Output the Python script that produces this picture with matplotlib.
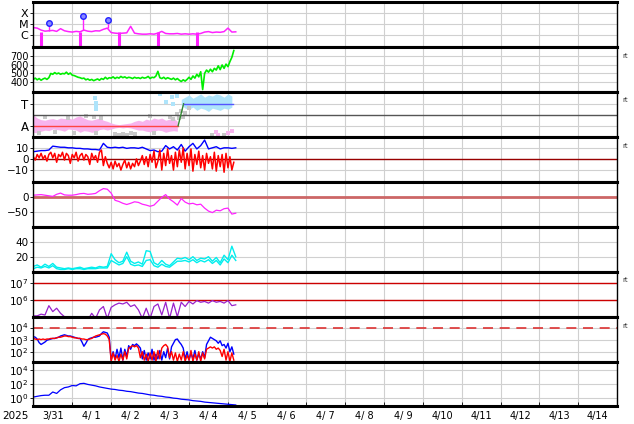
import numpy as np
import matplotlib.pyplot as plt
from matplotlib.ticker import FixedLocator, NullLocator

# time axis: days since 2025-03-31 00:00 UT
day_labels = ['3/31', '4/ 1', '4/ 2', '4/ 3', '4/ 4', '4/ 5', '4/ 6', '4/ 7',
              '4/ 8', '4/ 9', '4/10', '4/11', '4/12', '4/13', '4/14']
step_fine = 0.05
step = 0.1

# X-ray flux (W/m2)
xray = [5e-6, 4.5e-6, 3.0e-6, 2.4e-6, 2.6e-6, 2.8e-6, 2.3e-6, 4.0e-6, 2.6e-6, 2.2e-6,
        2.0e-6, 2.3e-6, 2.1e-6, 3.0e-6, 2.4e-6, 2.2e-6, 2.6e-6, 2.5e-6, 3.5e-6, 4.5e-6,
        1.8e-6, 1.6e-6, 1.5e-6, 1.6e-6, 1.7e-6, 6.5e-6, 1.6e-6, 1.4e-6, 1.3e-6, 1.3e-6,
        1.4e-6, 1.3e-6, 1.6e-6, 2.3e-6, 1.5e-6, 1.4e-6, 1.4e-6, 1.5e-6, 1.3e-6, 1.4e-6,
        1.3e-6, 1.4e-6, 1.3e-6, 1.5e-6, 2.0e-6, 2.2e-6, 1.8e-6, 2.0e-6, 1.9e-6, 2.2e-6,
        4.5e-6, 2.0e-6, 2.1e-6]
xray_gap_days = [0.2, 1.2, 2.2, 3.2, 4.2]
flare_days = [0.41, 1.28, 1.92]
flare_flux = [1.2e-5, 5.3e-5, 2.3e-5]
flare_base = [2.6e-6, 3.0e-6, 4.5e-6]

# solar wind speed (km/s)
speed = [430, 445, 425, 440, 420, 435, 445, 430, 450, 500, 490, 510, 495, 505, 490, 500, 495, 515, 490, 505,
         480, 475, 465, 455, 450, 440, 445, 425, 435, 420, 430, 415, 425, 435, 420, 440, 430, 455, 435, 450,
         445, 460, 440, 455, 445, 465, 450, 460, 445, 455, 450, 440, 455, 445, 450, 440, 455, 445, 450, 465,
         440, 455, 450, 470, 525, 450, 440, 455, 435, 450, 440, 430, 445, 425, 440, 420, 405, 425, 410, 430,
         455, 430, 470, 445, 490, 460, 520, 310, 500, 540, 515, 550, 520, 560, 540, 590, 545, 600, 560, 610,
         580, 640, 690, 770]

# IMF sector (T = +1, A = -1)
sector_days = [0.0, 3.72, 3.86, 5.13]
sector_vals = [-1, -1, 1, 1]
away_hi = [0.0, -0.3, -0.45, -0.5, -0.4, -0.35, -0.45, -0.3, -0.35, -0.3,
           -0.4, -0.2, -0.1, -0.3, -0.45, -0.5, -0.4, -0.3, -0.5, -0.6,
           -0.75, -0.85, -0.9, -0.85, -0.8, -0.75, -0.6, -0.5, -0.6, -0.4,
           -0.5, -0.3, -0.4, -0.3, -0.5, -0.4, -0.3, -0.6]
away_lo = [-1.6, -1.65, -1.5, -1.4, -1.45, -1.3, -1.35, -1.4, -1.5, -1.3,
           -1.35, -1.4, -1.6, -1.45, -1.5, -1.6, -1.55, -1.35, -1.3, -1.4,
           -1.3, -1.2, -1.15, -1.2, -1.15, -1.2, -1.3, -1.4, -1.4, -1.5,
           -1.55, -1.5, -1.4, -1.45, -1.6, -1.5, -1.45, -1.5]
toward_start = 3.8
toward_hi = [1.4, 1.6, 1.8, 1.5, 1.7, 1.9, 1.6, 1.8, 1.7, 1.9, 1.8, 1.6, 1.9, 1.7]
toward_lo = [0.9, 0.6, 0.5, 0.7, 0.4, 0.6, 0.5, 0.3, 0.6, 0.5, 0.4, 0.6, 0.5, 0.7]
gray_days = [0.15, 0.3, 0.55, 0.9, 1.05, 1.35, 1.55, 1.6, 1.75, 2.1, 2.2, 2.3, 2.4, 2.5,
             2.6, 3.0, 3.1, 3.5, 3.6, 3.7, 3.75, 3.8, 3.85, 3.9, 4.0, 4.6, 4.9]
gray_vals = [-1.7, -0.2, -1.6, -0.3, -1.7, -0.1, -0.2, -1.7, -0.3, -1.75, -1.8, -1.75, -1.8, -1.7,
             -1.75, -0.1, -1.7, -0.2, -0.4, 0.1, -0.3, 0.3, -0.2, 0.2, 0.6, -1.8, -1.85]
cyan_dots_days = [1.58, 1.6, 1.6, 1.62, 3.25, 3.4, 3.55, 3.6, 3.7]
cyan_dots_vals = [1.5, 1.1, 0.7, 0.5, 1.9, 1.2, 1.6, 1.0, 1.7]
pink_dots_days = [4.7, 4.75, 5.0, 5.1]
pink_dots_vals = [-1.6, -1.8, -1.7, -1.5]

# IMF Bt and Bz (nT)
bt = [6.5, 7, 7.5, 7.5, 8, 11.5, 11, 10.5, 10.5, 10, 10, 9.5, 9.5, 9, 9, 8.5, 8.5, 8, 14, 10.5,
      10, 10.5, 10, 10.5, 9.5, 10, 10, 9.5, 10.5, 9, 7.5, 8, 6.5, 7, 12, 9, 11, 8, 13, 7,
      11, 14, 9, 12, 17, 9, 10, 11, 9, 10, 10, 9.5, 10]
bz = [2, -1, 4, 1, 5, 0, 3, -2, 4, 6, 1, 5, -3, 4, 2, 6, -1, 5, 3, -4,
      4, 1, 6, -2, 3, 5, -1, 4, 2, -5, 5, 0, 3, -3, 6, 8, -6, 2, -4, -8,
      -3, -9, -2, -7, -4, -10, -5, -1, -8, -3, -9, -4, -7, 0, -6, -2, 3, -5, 2, -7,
      4, -3, 7, -8, -2, 8, -10, 5, -6, 9, -4, 3, -10, 6, -7, 8, -3, 10, -9, 5,
      -6, 9, -11, 4, -5, 7, -8, 3, -10, 5, -4, 2, -9, 6, -11, 3, -7, 4, -12, 5,
      -8, 2, -10, -3]

# Dst (nT)
dst = [5, 6, 7, 5, 3, 1, 8, 12, 6, 5, 5, 7, 10, 11, 8, 9, 11, 20, 27, 25,
       12, -12, -16, -22, -26, -22, -17, -19, -25, -28, -32, -28, -15, -2, 7, -8, -17, -28, -6, -18,
       -24, -22, -27, -25, -38, -48, -53, -45, -47, -40, -38, -58, -55]

# two cyan series (0-60 panel)
cyan_a = [7, 9, 6, 10, 7, 11, 6, 5, 4, 5, 4, 5, 6, 4, 5, 6, 5, 7, 6, 7,
          24, 16, 12, 14, 26, 14, 11, 13, 10, 28, 27, 12, 9, 15, 10, 8, 13, 18, 17, 19,
          16, 20, 15, 18, 17, 20, 14, 19, 12, 22, 16, 34, 20]
cyan_b = [4, 6, 5, 7, 5, 8, 4, 3, 3, 4, 3, 4, 4, 3, 4, 4, 4, 5, 5, 5,
          15, 12, 9, 11, 20, 10, 8, 9, 7, 15, 16, 8, 6, 10, 7, 6, 10, 14, 14, 15,
          13, 16, 12, 15, 13, 16, 11, 15, 9, 17, 12, 22, 15]

# electron flux (log10)
electron_log = [5.05, 5.05, 5.15, 5.1, 5.65, 5.3, 5.5, 5.2, 5.0, 4.8,
                4.8, 4.8, 4.8, 4.8, 4.8, 5.2, 4.9, 5.4, 5.6, 4.9,
                5.55, 5.7, 5.8, 5.75, 5.85, 5.6, 5.7, 5.4, 4.9, 5.5,
                4.9, 5.6, 5.75, 5.1, 5.85, 4.9, 5.8, 5.0, 5.85, 5.6,
                5.9, 5.75, 5.95, 5.85, 5.9, 5.8, 5.95, 5.85, 5.9, 5.8, 5.95, 5.65, 5.7]

# proton flux (log10), blue and red, fine cadence
proton_blue_log = [3.25, 3.2, 3.05, 2.75, 2.6, 2.7, 2.8, 2.95, 3.0, 3.05, 3.1, 3.1, 3.15, 3.2, 3.3, 3.35, 3.4, 3.35, 3.3, 3.3,
                   3.25, 3.2, 3.15, 3.1, 3.1, 2.8, 2.45, 2.7, 3.0, 3.1, 3.15, 3.2, 3.2, 3.25, 3.3, 3.5, 3.65, 3.6, 3.55, 3.2,
                   1.3, 2.0, 1.4, 2.2, 1.5, 2.3, 1.3, 2.2, 1.6, 2.5, 2.2, 2.6, 2.5, 2.65, 2.5, 2.3, 1.4, 2.1, 1.3, 1.9,
                   1.4, 2.2, 1.3, 1.8, 1.4, 2.1, 1.3, 2.0, 1.5, 2.3, 1.4, 2.4, 2.7, 3.0, 3.05, 2.8, 2.6, 2.3, 1.4, 2.0,
                   1.3, 1.9, 1.4, 2.1, 1.3, 1.8, 1.4, 2.0, 1.5, 2.6, 2.9, 3.2, 3.1, 3.0, 2.9, 2.7, 2.9, 2.5, 2.6, 2.3,
                   2.7, 2.0, 2.4, 1.8]
proton_red_log = [3.1, 3.05, 3.0, 3.05, 3.0, 3.05, 3.0, 3.05, 3.05, 3.1, 3.1, 3.1, 3.15, 3.2, 3.2, 3.25, 3.3, 3.3, 3.25, 3.25,
                  3.2, 3.15, 3.15, 3.1, 3.1, 3.05, 3.05, 3.0, 3.0, 3.05, 3.1, 3.2, 3.3, 3.35, 3.4, 3.45, 3.5, 3.45, 3.3, 3.0,
                  1.2, 1.9, 1.3, 1.7, 1.2, 1.8, 1.3, 2.0, 1.4, 2.3, 2.4, 2.5, 2.4, 2.5, 2.3, 1.5, 2.0, 1.3, 1.8, 1.2,
                  1.9, 1.3, 2.0, 1.2, 2.1, 1.4, 2.3, 2.5, 2.6, 2.4, 1.5, 2.0, 1.3, 1.9, 1.2, 1.8, 1.3, 2.0, 1.2, 1.7,
                  1.3, 2.1, 1.2, 1.8, 1.3, 2.0, 1.2, 1.9, 1.4, 2.2, 2.3, 2.4, 2.3, 2.4, 2.2, 2.3, 2.1, 1.6, 2.2, 1.3,
                  2.0, 1.2, 1.9, 1.3]

# bottom panel (log10)
bottom_log = [0.2, 0.3, 0.4, 0.45, 0.45, 0.9, 0.7, 1.2, 1.5, 1.6,
              1.8, 1.75, 2.05, 2.1, 1.95, 1.85, 1.75, 1.6, 1.5, 1.4,
              1.3, 1.25, 1.15, 1.1, 1.0, 0.95, 0.85, 0.75, 0.7, 0.6,
              0.5, 0.45, 0.35, 0.3, 0.2, 0.15, 0.05, 0.0, -0.1, -0.15,
              -0.2, -0.3, -0.35, -0.4, -0.5, -0.55, -0.6, -0.65, -0.7, -0.75, -0.8, -0.85, -0.9]


def days(n, dt, start=0.0):
    return start + np.arange(n) * dt


W, H = 634, 424
fig = plt.figure(figsize=(W / 100, H / 100), dpi=100)
bounds = [1.7, 46.7, 91.7, 136.7, 181.7, 226.7, 271.7, 316.7, 361.7, 405.7]
x0, x1 = 33.3, 617.3
axes = []
for i in range(9):
    ax = fig.add_axes([x0 / W, 1 - bounds[i + 1] / H, (x1 - x0) / W, (bounds[i + 1] - bounds[i]) / H])
    ax.set_xlim(0, 15)
    ax.xaxis.set_major_locator(FixedLocator(range(16)))
    ax.grid(True, color='#d0d0d0', lw=0.8)
    ax.set_axisbelow(True)
    ax.tick_params(axis='x', which='both', length=0, labelbottom=False)
    ax.tick_params(axis='y', length=2, width=0.6, labelsize=7.5, pad=1.5)
    for s in ['top', 'bottom']:
        ax.spines[s].set_linewidth(2.2)
    for s in ['left', 'right']:
        ax.spines[s].set_linewidth(1.0)
    axes.append(ax)

# 1: X-ray
ax = axes[0]
ax.set_yscale('log')
ax.set_ylim(1e-7, 1e-3)
ax.plot(days(len(xray), step), xray, color='#ff22ff', lw=1.1)
ax.vlines(xray_gap_days, 1e-7, 2.2e-6, color='#ff22ff', lw=2.2)
ax.vlines(flare_days, flare_base, flare_flux, color='#ff22ff', lw=1.0)
ax.plot(flare_days, flare_flux, 'o', ms=4, mfc='#8888ff', mec='#2222ff', mew=1)
ax.yaxis.set_major_locator(FixedLocator([1e-6, 1e-5, 1e-4]))
ax.yaxis.set_minor_locator(NullLocator())
ax.set_yticklabels(['C', 'M', 'X'], fontsize=8)

# 2: speed
ax = axes[1]
ax.set_ylim(285, 815)
ax.plot(days(len(speed), step_fine), speed, color='#00ee00', lw=1.2)
ax.yaxis.set_major_locator(FixedLocator([400, 500, 600, 700]))
ax.tick_params(axis='y', labelsize=7)

# 3: sector
ax = axes[2]
ax.set_ylim(-2.0, 2.1)
ax.fill_between(days(len(away_hi), step), away_lo, away_hi, color='#f8b4ee', lw=0)
ax.fill_between(days(len(toward_hi), step, toward_start), toward_lo, toward_hi, color='#aee4fb', lw=0)
ax.plot(gray_days, gray_vals, 's', ms=2.5, color='#c8c8c8', mew=0)
ax.plot(cyan_dots_days, cyan_dots_vals, 's', ms=2.5, color='#aee4fb', mew=0)
ax.plot(pink_dots_days, pink_dots_vals, 's', ms=2.5, color='#f8b4ee', mew=0)
ax.axhline(0, color='#555555', lw=1.0)
ax.plot(sector_days[:2], sector_vals[:2], color='#ff4444', lw=1.0)
ax.plot(sector_days[1:3], sector_vals[1:3], color='#338833', lw=1.0)
ax.plot(sector_days[2:], sector_vals[2:], color='#5555ff', lw=1.0)
ax.yaxis.set_major_locator(FixedLocator([-1, 1]))
ax.set_yticklabels(['A', 'T'], fontsize=8.5)

# 4: Bt / Bz
ax = axes[3]
ax.set_ylim(-20.5, 20)
ax.axhline(0, color='#990000', lw=1.0)
ax.plot(days(len(bt), step), bt, color='#0000ff', lw=1.0)
ax.plot(days(len(bz), step_fine), bz, color='#ff0000', lw=1.1)
ax.yaxis.set_major_locator(FixedLocator([-10, 0, 10]))
ax.set_yticklabels(['\u221210', '0', '10'])

# 5: Dst
ax = axes[4]
ax.set_ylim(-100, 50)
ax.axhline(0, color='#cc6666', lw=2.0)
ax.plot(days(len(dst), step), dst, color='#ff22ff', lw=0.9)
ax.yaxis.set_major_locator(FixedLocator([-50, 0]))
ax.set_yticklabels(['\u221250', '0'])

# 6: cyan
ax = axes[5]
ax.set_ylim(0, 60)
ax.plot(days(len(cyan_a), step), cyan_a, color='#00eeee', lw=1.0)
ax.plot(days(len(cyan_b), step), cyan_b, color='#00eeee', lw=1.0)
ax.yaxis.set_major_locator(FixedLocator([20, 40]))

# 7: electrons
ax = axes[6]
ax.set_yscale('log')
ax.set_ylim(1e5, 10 ** 7.65)
ax.axhline(1e6, color='#cc0000', lw=1.0)
ax.axhline(1e7, color='#cc0000', lw=1.0)
ax.plot(days(len(electron_log), step), 10 ** np.array(electron_log), color='#9922cc', lw=0.9)
ax.yaxis.set_major_locator(FixedLocator([1e6, 1e7]))
ax.yaxis.set_minor_locator(NullLocator())

# 8: protons
ax = axes[7]
ax.set_yscale('log')
ax.set_ylim(10 ** 1.17, 10 ** 4.9)
ax.axhline(1e4, color='#dd3333', lw=1.2, dashes=(6, 4))
ax.plot(days(len(proton_blue_log), step_fine), 10 ** np.array(proton_blue_log), color='#0000ff', lw=1.0)
ax.plot(days(len(proton_red_log), step_fine), 10 ** np.array(proton_red_log), color='#ff0000', lw=1.0)
ax.yaxis.set_major_locator(FixedLocator([1e2, 1e3, 1e4]))
ax.yaxis.set_minor_locator(NullLocator())

# 9: bottom
ax = axes[8]
ax.set_yscale('log')
ax.set_ylim(1e-1, 10 ** 5.1)
ax.plot(days(len(bottom_log), step), 10 ** np.array(bottom_log), color='#0000ff', lw=0.9)
ax.yaxis.set_major_locator(FixedLocator([1e0, 1e2, 1e4]))
ax.yaxis.set_minor_locator(NullLocator())
ax.xaxis.set_minor_locator(FixedLocator(np.arange(15) + 0.5))
ax.xaxis.set_minor_formatter(plt.FixedFormatter(day_labels))
ax.tick_params(axis='x', which='major', length=3, direction='in', width=0.6)
ax.tick_params(axis='x', which='minor', length=0, labelbottom=True, labelsize=7, pad=4)

for i in [1, 2, 3, 6, 7]:
    axes[i].text(1.008, 0.76, 'rt', transform=axes[i].transAxes, fontsize=5, color='#333333')

fig.text(2 / W, 1 - 416 / H, '2025', fontsize=7.5, va='center', ha='left')

fig.savefig('out.png', dpi=100)
